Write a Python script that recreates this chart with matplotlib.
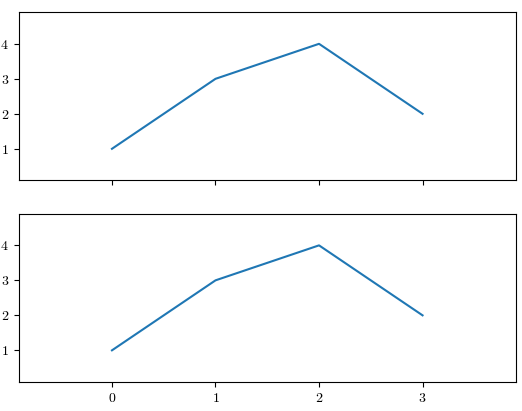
import matplotlib
matplotlib.use("Agg")
from matplotlib import pyplot as plt

# data
x = [0, 1, 2, 3]
y = [1, 3, 4, 2]

plt.rcParams['font.family'] = 'serif'
plt.rcParams['font.serif'] = ['cmr10']
plt.rcParams['mathtext.fontset'] = 'cm'
plt.rcParams['axes.formatter.use_mathtext'] = True

fig, (ax1, ax2) = plt.subplots(2, 1, sharex=True, figsize=(5.22, 4.11), dpi=100)
fig.subplots_adjust(left=0.036, right=0.988, top=0.97, bottom=0.071, hspace=0.2)

for ax in (ax1, ax2):
    ax.plot(x, y)
    ax.margins(0.3)

fig.savefig('out.png', dpi=100)
